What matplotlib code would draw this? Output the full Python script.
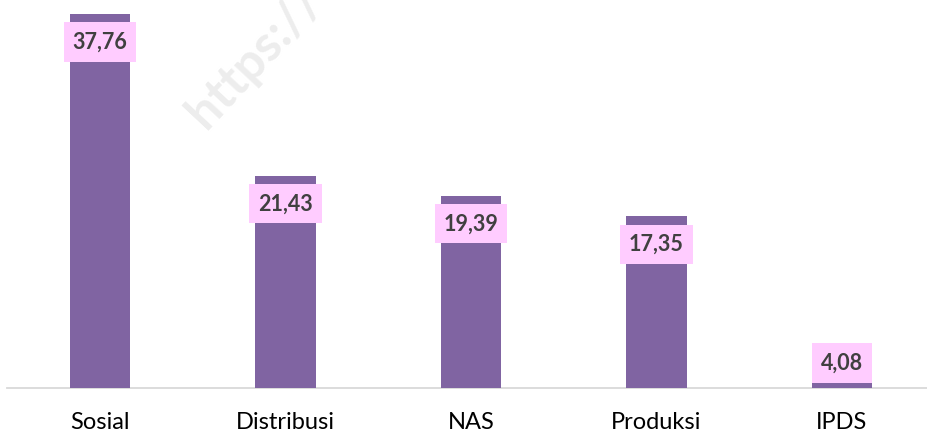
import numpy as np
import matplotlib.pyplot as plt

# data
categories = ['Sosial', 'Distribusi', 'NAS', 'Produksi', 'IPDS']
values = [37.76, 21.43, 19.39, 17.35, 4.08]
labels = ['37,76', '21,43', '19,39', '17,35', '4,08']

bar_color = '#8064A2'
box_color = '#FFCCFF'
text_color = '#404040'

fig = plt.figure(figsize=(9.27, 4.34), dpi=100)
ax = fig.add_axes([7.25 / 927, 46 / 434, 927.5 / 927, 0.913])

x = np.arange(len(categories))
vals = np.array(values)
ax.bar(x, vals, width=0.3235, color=bar_color, zorder=2)

# data labels: inside end, kept above the axis line
label_y = np.maximum(vals - 2.83, 2.52)
for xi, ly, lab in zip(x, label_y, labels):
    ax.text(xi, ly, lab, ha='center', va='center', fontsize=15.5,
            fontweight='bold', family='Lato', color=text_color, zorder=3,
            bbox=dict(boxstyle='square,pad=0.42', fc=box_color, ec='none'))

ax.set_xlim(-0.5, len(categories) - 0.5)
ax.set_ylim(0, 40)
ax.set_xticks(x)
ax.set_xticklabels(categories, fontsize=17, family='Lato', color='#000000')
ax.tick_params(axis='x', length=0, pad=17)
ax.set_yticks([])
for side in ['top', 'right', 'left']:
    ax.spines[side].set_visible(False)
ax.spines['bottom'].set_color('#D9D9D9')
ax.spines['bottom'].set_linewidth(1.3)
ax.spines['bottom'].set_zorder(1)

# faint watermark
fig.text(212 / 927, 1 - 136 / 434, 'https://', rotation=47, fontsize=36,
         fontweight='bold', family='Lato', color='#EDEDED', zorder=0,
         ha='left', va='bottom', rotation_mode='anchor')

fig.savefig('out.png', dpi=100)
